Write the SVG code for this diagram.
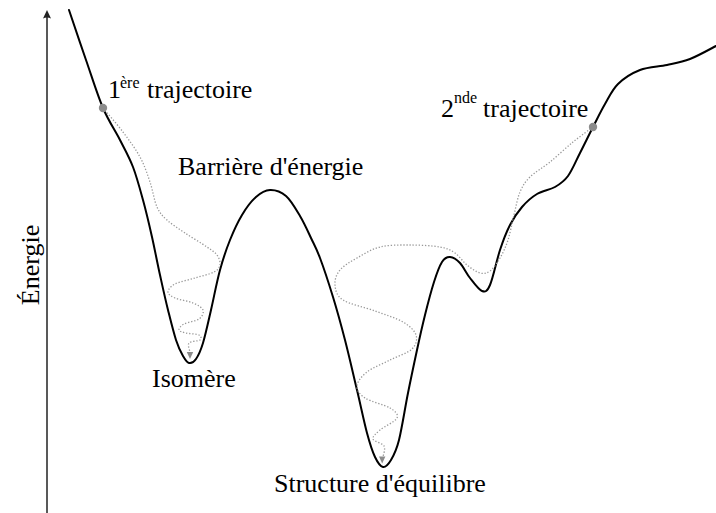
<svg xmlns="http://www.w3.org/2000/svg" width="716" height="513" viewBox="0 0 716 513">
<style>
.lbl{font-family:"Liberation Serif","Times New Roman",serif;font-size:26px;fill:#000}
.sup{font-size:16px}
.curve{fill:none;stroke:#000;stroke-width:2;stroke-linejoin:round;stroke-linecap:round}
.traj{fill:none;stroke:#999;stroke-width:1.3;stroke-dasharray:1.3 1.8}
.dot{fill:#8c8c8c}
.head{fill:#8c8c8c}
</style>
<rect width="716" height="513" fill="#fff"/>
<g id="axis">
<line x1="47" y1="513" x2="47" y2="15" stroke="#222" stroke-width="1.5"/>
<path d="M47,10 L51,18.5 Q47,16.3 43,18.5 Z" fill="#222"/>
<text class="lbl" transform="translate(38.5,265) rotate(-90)" text-anchor="middle">Énergie</text>
</g>
<g id="energy-curve">
<path class="curve" d="M69,10 C71.8,18.3 80.3,43.7 86,60 S97.3,94.7 103,108 S115,130.2 120,140 S129.2,157 133,167 S139.8,188.3 143,200 S149.2,224.5 152,237 S157.3,262.8 160,275 S165.3,299.2 168,310 S173.5,332.3 176,340 S180.8,352.2 183,356 S186.8,362.5 189,363 S193.7,362.3 196,359 S200.5,351.2 203,343 S208.2,322.2 211,310 S216.8,281.7 220,270 S226.3,249.2 230,240 S237.7,222.2 242,215 S251.3,201.2 256,197 S265,190.2 270,190 S281,191.7 286,196 S295.8,209 300,216 S307.7,231 311,238 S316.3,248.2 320,258 S328.8,283.3 333,297 S341,324.5 345,340 S353.3,374.5 357,390 S364,421.8 367,433 S372.3,451.3 375,457 S380.3,466.5 383,467 S388.3,464.5 391,460 S396.2,451.2 399,440 S405,408 408,393 S414.2,363 417,350 S422.2,326.3 425,315 S431.2,290.8 434,282 S439.3,266.2 442,262 S447,256.8 450,257 S456.7,259.5 460,263 S466.3,273.3 470,278 S478.7,289.8 482,291 S487,291.8 490,285 S496.7,260 500,250 S506.3,232.2 510,225 S517.5,212.2 522,207 S531.5,197.3 537,194 S549.8,190 555,187 S563.8,181.7 568,176 S575.8,161.2 580,153 S588.8,135.2 593,127 S600.8,111.2 605,104 S612.2,89.7 618,84 S631.8,73.2 640,70 S658.7,66.8 667,65 S681.8,62.2 690,59 S711.7,48.2 716,46"/>
</g>
<g id="trajectory-1">
<path class="traj" d="M103,108 C106.3,112 116.8,123.8 123,132 S135.5,148.7 140,157 S147.2,173.7 150,182 S154.2,200.7 157,207 S162.3,215.7 167,220 S178.3,228.5 185,233 S201.7,243.3 207,247 S214.8,252 217,255 S220.5,262.2 220,265 S218.2,269.8 214,272 S201.5,276 195,278 S179.5,281.7 175,284 S168,289.7 168,292 S170.8,296.2 175,298 S188.3,301 193,303 S202,307.3 203,310 S202.2,316.7 199,319 S187.3,322.2 184,324 S178.7,328.5 179,330 S182.7,332.2 186,333 S196.7,333.8 199,335 S201.7,338.7 200,340 S190.7,341 189,343 S189.8,350.5 190,352"/>
<path class="head" d="M186.8,352 L193.2,352 L190,359 Z"/>
<circle class="dot" cx="103" cy="108" r="4.2"/>
</g>
<g id="trajectory-2">
<path class="traj" d="M593,127 C589.7,129.5 580.2,136.2 573,142 S557.2,156.2 550,162 S535,172 530,177 S522.7,185.7 520,192 S516,207 514,215 S510.3,232.8 508,240 S503,252.8 500,258 S493.3,268.5 490,271 S483.8,274 480,273 S471.2,268.3 467,265 S459.5,256 455,253 S447.5,248.3 440,247 S420,245 410,245 S388.8,244.8 380,247 S363.7,254.2 357,258 S343.7,265.5 340,270 S334.5,280 335,285 S336.3,295.7 343,300 S365,307.3 375,311 S396.2,318 403,322 S414.5,330.5 416,335 S416.3,344.8 412,349 S397.5,356.2 390,360 S372.5,367.7 367,372 S357.3,381.7 357,386 S359.5,394.3 365,398 S384.7,404.7 390,408 S398.7,414.3 397,418 S384,426.5 380,430 S372.3,436.3 373,439 S382.3,443 384,446 S383.2,455.2 383,457"/>
<path class="head" d="M379,456.5 L385.4,456.5 L382.2,463.5 Z"/>
<circle class="dot" cx="593" cy="127" r="4.2"/>
</g>
<g id="labels">
<text class="lbl"><tspan x="108" y="98">1</tspan><tspan class="sup" x="120" y="88">ère</tspan><tspan x="147" y="98">trajectoire</tspan></text>
<text class="lbl"><tspan x="441" y="117">2</tspan><tspan class="sup" x="454" y="103">nde</tspan><tspan x="483" y="117">trajectoire</tspan></text>
<text class="lbl" x="178" y="175">Barrière d'énergie</text>
<text class="lbl" x="152" y="387">Isomère</text>
<text class="lbl" x="274" y="492">Structure d'équilibre</text>
</g>
</svg>
